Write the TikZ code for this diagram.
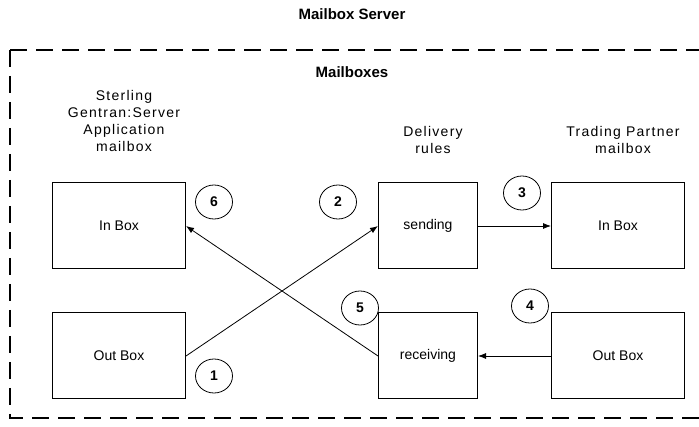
\documentclass[tikz,border=0pt]{standalone}
\usepackage{fontspec}
\setmainfont{Liberation Sans}
\newfontfamily\capfont[LetterSpace=9]{Liberation Sans}
\usetikzlibrary{arrows.meta,positioning,shapes.geometric}

\begin{document}
\begin{tikzpicture}[
  x=1pt,y=-1pt,
  font=\fontsize{14}{17}\selectfont,
  node distance=43pt,
  mbox/.style={rectangle,draw,line width=1pt,minimum width=133pt,minimum height=86pt,align=center,inner sep=0pt},
  rulebox/.style={mbox,minimum width=99pt},
  lbl/.style={align=center,inner sep=0pt,xshift=5pt,font=\capfont\fontsize{14}{17}\selectfont},
  num/.style={ellipse,draw,line width=0.8pt,minimum width=37pt,minimum height=34pt,inner sep=0pt,font=\fontsize{14}{14}\selectfont\bfseries},
  hdr/.style={font=\fontsize{15}{15}\selectfont\bfseries,inner sep=0pt},
  frame/.style={line width=1.2pt,dash pattern=on 17pt off 9pt},
  ar/.style={-{Latex[length=8pt,width=6pt]},line width=0.8pt}
]
\useasboundingbox (0,0) rectangle (699,427);

% mailbox server frame (open to the right)
\coordinate (tl) at (10,50);
\coordinate (tr) at (715,50);
\coordinate (bl) at (10,418);
\coordinate (br) at (715,418);
\draw[frame] (tl) -- (tr);
\draw[frame] (tl) -- (bl) -- (br);

\node[hdr] (srv) at (352,14) {Mailbox Server};
\node[hdr] (mbx) at (352,72) {Mailboxes};

% boxes
\node[mbox] (apin) at (119,226) {In Box};
\node[mbox,below=of apin] (apout) {Out Box};
\node[rulebox,right=192pt of apin] (send) {sending};
\node[rulebox,below=of send] (recv) {receiving};
\node[mbox,right=73pt of send] (tpin) {In Box};
\node[mbox,below=of tpin] (tpout) {Out Box};

% captions
\node[lbl,above=31pt of apin] (aplbl) {Sterling\\Gentran:Server\\Application\\mailbox};
\node[lbl,above=29pt of send] (rulelbl) {Delivery\\rules};
\node[lbl,above=29pt of tpin] (tplbl) {Trading Partner\\mailbox};

% step numbers
\node[num] (n1) at (214,376) {1};
\node[num] (n2) at (338,202) {2};
\node[num] (n3) at (522,193) {3};
\node[num] (n4) at (530,306) {4};
\node[num] (n5) at (360,308) {5};
\node[num] (n6) at (214,202) {6};

\draw[ar] (apout.east) -- (send.west);
\draw[ar] (send) -- (tpin);
\draw[ar] (tpout) -- (recv);
\draw[ar] (recv.west) -- (apin.east);
\end{tikzpicture}
\end{document}
